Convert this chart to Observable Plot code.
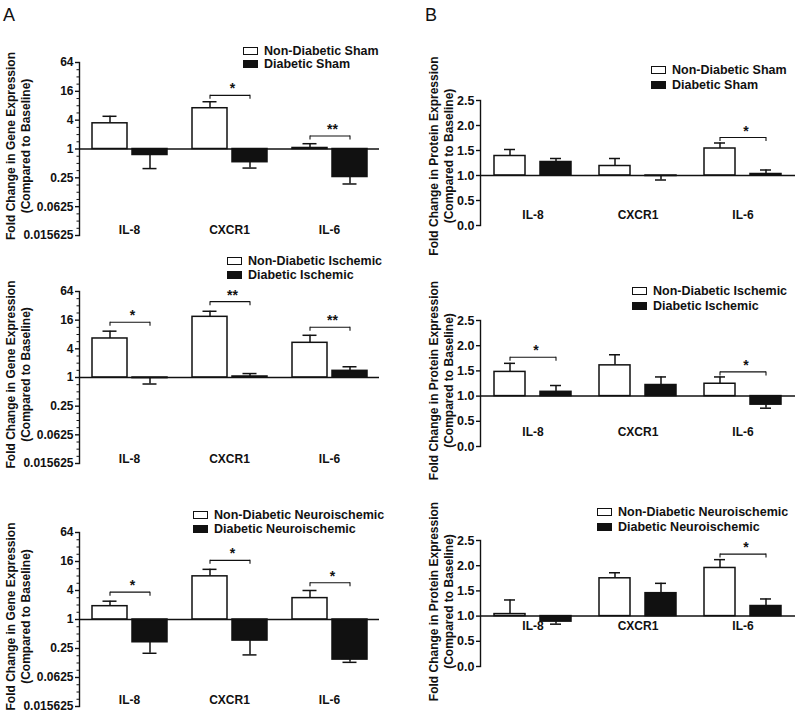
<!DOCTYPE html>
<html><head><meta charset="utf-8">
<script src="https://cdn.jsdelivr.net/npm/d3@7"></script>
<script src="https://cdn.jsdelivr.net/npm/@observablehq/plot@0.6"></script>
<style>
body{margin:0;background:#fff;font-family:"Liberation Sans",Arial,sans-serif;}
#root{position:relative;width:800px;height:717px;overflow:hidden;background:#fff;}
.panel{position:absolute;}
.leg{position:absolute;font-weight:bold;font-size:12.5px;color:#111;}
.leg .row{display:flex;align-items:center;white-space:nowrap;}
.leg .box{width:13px;height:6px;border:1.5px solid #111;margin-right:6px;flex:none;}
.letter{position:absolute;font-size:18px;color:#111;line-height:1;}
</style></head><body><div id="root"></div>
<script>
const genes = ["IL-8", "CXCR1", "IL-6"];
const groups = ["ND", "D"];

// A: fold change in gene expression (log axis)
const geneTicks = [0.015625, 0.0625, 0.25, 1, 4, 16, 64];
const geneTickLabels = ["0.015625", "0.0625", "0.25", "1", "4", "16", "64"];
const geneShamND = [3.44, 7.1, 1.05];
const geneShamNDErr = [4.82, 9.7, 1.29];
const geneShamD = [0.75, 0.53, 0.26];
const geneShamDErr = [0.39, 0.40, 0.186];
const geneIschND = [6.6, 18.8, 5.35];
const geneIschNDErr = [9.4, 24.6, 7.7];
const geneIschD = [0.97, 1.05, 1.38];
const geneIschDErr = [0.73, 1.21, 1.68];
const geneNeuroND = [1.89, 7.87, 2.78];
const geneNeuroNDErr = [2.4, 11.0, 4.0];
const geneNeuroD = [0.337, 0.365, 0.147];
const geneNeuroDErr = [0.199, 0.184, 0.129];

// B: fold change in protein expression (linear axis)
const protTicks = [0, 0.5, 1, 1.5, 2, 2.5];
const protTickLabels = ["0.0", "0.5", "1.0", "1.5", "2.0", "2.5"];
const protShamND = [1.39, 1.19, 1.54];
const protShamNDErr = [1.52, 1.34, 1.65];
const protShamD = [1.27, 0.99, 1.03];
const protShamDErr = [1.34, 0.91, 1.11];
const protIschND = [1.48, 1.61, 1.245];
const protIschNDErr = [1.65, 1.82, 1.38];
const protIschD = [1.085, 1.22, 0.83];
const protIschDErr = [1.21, 1.38, 0.76];
const protNeuroND = [1.04, 1.75, 1.955];
const protNeuroNDErr = [1.32, 1.86, 2.12];
const protNeuroD = [0.89, 1.455, 1.20];
const protNeuroDErr = [0.84, 1.65, 1.34];

// significance brackets: [gene, bracket level, label]
const geneShamSig = [["CXCR1", 13.2, "*"], ["IL-6", 1.87, "**"]];
const geneIschSig = [["IL-8", 14.5, "*"], ["CXCR1", 39.2, "**"], ["IL-6", 11.4, "**"]];
const geneNeuroSig = [["IL-8", 3.7, "*"], ["CXCR1", 16.9, "*"], ["IL-6", 5.8, "*"]];
const protShamSig = [["IL-6", 1.76, "*"]];
const protIschSig = [["IL-8", 1.77, "*"], ["IL-6", 1.48, "*"]];
const protNeuroSig = [["IL-6", 2.23, "*"]];

const shamLegend = ["Non-Diabetic Sham", "Diabetic Sham"];
const ischLegend = ["Non-Diabetic Ischemic", "Diabetic Ischemic"];
const neuroLegend = ["Non-Diabetic Neuroischemic", "Diabetic Neuroischemic"];
const geneTitle = "Fold Change in Gene Expression\n(Compared to Baseline)";
const protTitle = "Fold Change in Protein Expression\n(Compared to Baseline)";

const ink = "#111";
const root = document.getElementById("root");

function rows(nd, ndErr, d, dErr) {
  return genes.flatMap((g, i) => [
    {gene: g, group: "ND", value: nd[i], err: ndErr[i]},
    {gene: g, group: "D", value: d[i], err: dErr[i]}
  ]);
}
function sigRows(s) { return s.map(([gene, y, label]) => ({gene, y, label})); }

function makePanel(cfg) {
  const data = rows(...cfg.series);
  const sig = sigRows(cfg.sig);
  const majors = cfg.log ? geneTicks : protTicks;
  const majorLabels = cfg.log ? geneTickLabels : protTickLabels;
  const minors = cfg.log ? d3.pairs(geneTicks).flatMap(([a, b]) => [1, 2, 3].map(j => a * Math.pow(b / a, j / 4))) : [];
  const marks = [
    Plot.frame({anchor: "left", facetAnchor: "left", stroke: ink, strokeWidth: 1.4}),
    Plot.axisY({ticks: majors, tickFormat: v => majorLabels[majors.indexOf(v)], tickSize: 4, tickPadding: 2,
      stroke: ink, strokeWidth: 1.4, fill: ink, label: null, fontSize: cfg.tickFont, fontWeight: "bold"})
  ];
  if (minors.length) marks.push(Plot.axisY({ticks: minors, tickSize: 2.5, tickFormat: () => "", label: null, stroke: ink, strokeWidth: 1}));
  marks.push(
    Plot.axisFx({anchor: "bottom", tickSize: 0, tickPadding: 0, dy: cfg.labelDy, label: null, fontSize: 12, fontWeight: "bold", fill: ink}),
    Plot.text([{gene: genes[0]}], {fx: "gene", text: () => cfg.title, frameAnchor: "left", textAnchor: "middle", rotate: -90,
      dx: cfg.titleDx, dy: cfg.titleDy, lineHeight: 1.25, fontSize: 12, fontWeight: "bold", fill: ink}),
    Plot.ruleX(data, {fx: "gene", x: "group", y1: "value", y2: "err", stroke: ink, strokeWidth: 1.5}),
    Plot.tickY(data, {fx: "gene", x: "group", y: "err", insetLeft: cfg.capInset, insetRight: cfg.capInset, stroke: ink, strokeWidth: 1.5}),
    Plot.barY(data.filter(d => d.group === "ND"), {fx: "gene", x: "group", y1: () => 1, y2: "value", fill: "white", stroke: ink, strokeWidth: 1.5}),
    Plot.barY(data.filter(d => d.group === "D"), {fx: "gene", x: "group", y1: () => 1, y2: "value", fill: ink, stroke: ink, strokeWidth: 1.5}),
    Plot.ruleY([1], {stroke: ink, strokeWidth: 1.5}),
    Plot.link(sig, {fx: "gene", x1: () => "ND", x2: () => "D", y1: "y", y2: "y", stroke: ink, strokeWidth: 1.1}),
    Plot.ruleX(sig, {fx: "gene", x: () => "ND", y1: "y", y2: "y", insetBottom: -4, stroke: ink, strokeWidth: 1.1}),
    Plot.ruleX(sig, {fx: "gene", x: () => "D", y1: "y", y2: "y", insetBottom: -4, stroke: ink, strokeWidth: 1.1}),
    Plot.text(sig, {fx: "gene", y: "y", text: "label", lineAnchor: "bottom", dx: 3, dy: -2, fontSize: 14, fontWeight: "bold", fill: ink})
  );
  const chart = Plot.plot({
    width: cfg.width, height: cfg.height,
    marginLeft: cfg.marginLeft, marginRight: cfg.marginRight, marginTop: cfg.marginTop, marginBottom: cfg.marginBottom,
    style: {fontFamily: "'Liberation Sans', Arial, sans-serif", fontWeight: "bold", color: ink, background: "transparent", overflow: "visible"},
    fx: {domain: genes, padding: 0},
    x: {domain: groups, paddingInner: cfg.padIn, paddingOuter: cfg.padOut, axis: null},
    y: cfg.log ? {type: "log", base: 2, domain: [geneTicks[0], geneTicks[geneTicks.length - 1]]} : {domain: [protTicks[0], protTicks[protTicks.length - 1]]},
    marks
  });
  const div = document.createElement("div");
  div.className = "panel";
  div.style.left = cfg.left + "px";
  div.style.top = cfg.top + "px";
  div.appendChild(chart);
  root.appendChild(div);
}

function makeLegend(labels, left, top, rowH) {
  const div = document.createElement("div");
  div.className = "leg";
  div.style.left = left + "px";
  div.style.top = top + "px";
  labels.forEach((t, i) => {
    const r = document.createElement("div");
    r.className = "row";
    r.style.height = rowH + "px";
    const b = document.createElement("span");
    b.className = "box";
    b.style.background = i === 0 ? "#fff" : ink;
    const s = document.createElement("span");
    s.textContent = t;
    r.appendChild(b); r.appendChild(s);
    div.appendChild(r);
  });
  root.appendChild(div);
}

function letter(t, left, top) {
  const d = document.createElement("div");
  d.className = "letter";
  d.style.left = left + "px"; d.style.top = top + "px";
  d.textContent = t;
  root.appendChild(d);
}

const A = {log: true, width: 400, left: 0, marginLeft: 79, marginRight: 21, padIn: 0.125, padOut: 0.3125, capInset: 10.5, title: geneTitle, titleDx: -62, titleDy: -3, tickFont: 12};
const B = {log: false, width: 400, left: 400, marginLeft: 79, marginRight: 4.5, padIn: 0.326, padOut: 0.304, capInset: 10, title: protTitle, titleDx: -40, tickFont: 12.5};

makePanel({...A, series: [geneShamND, geneShamNDErr, geneShamD, geneShamDErr], sig: geneShamSig, top: 40, marginTop: 22, height: 207, marginBottom: 12, labelDy: -10});
makePanel({...A, series: [geneIschND, geneIschNDErr, geneIschD, geneIschDErr], sig: geneIschSig, top: 269, marginTop: 22, height: 206, marginBottom: 12, labelDy: -9});
makePanel({...A, series: [geneNeuroND, geneNeuroNDErr, geneNeuroD, geneNeuroDErr], sig: geneNeuroSig, top: 510, marginTop: 22, height: 207, marginBottom: 11, labelDy: -11});

makePanel({...B, series: [protShamND, protShamNDErr, protShamD, protShamDErr], sig: protShamSig, top: 80, marginTop: 20, height: 157, marginBottom: 12, labelDy: -15, titleDy: -7});
makePanel({...B, series: [protIschND, protIschNDErr, protIschD, protIschDErr], sig: protIschSig, top: 300, marginTop: 20, height: 158, marginBottom: 12, labelDy: -19, titleDy: -3});
makePanel({...B, series: [protNeuroND, protNeuroNDErr, protNeuroD, protNeuroDErr], sig: protNeuroSig, top: 520, marginTop: 20, height: 158, marginBottom: 12, labelDy: -45, titleDy: -2});

makeLegend(shamLegend, 243, 44, 13.5);
makeLegend(ischLegend, 227, 254, 14);
makeLegend(neuroLegend, 193, 508, 14);
makeLegend(shamLegend, 651, 63, 14.5);
makeLegend(ischLegend, 632, 283.5, 15);
makeLegend(neuroLegend, 597, 504.5, 15);

letter("A", 3, 6);
letter("B", 425, 6);
</script></body></html>
